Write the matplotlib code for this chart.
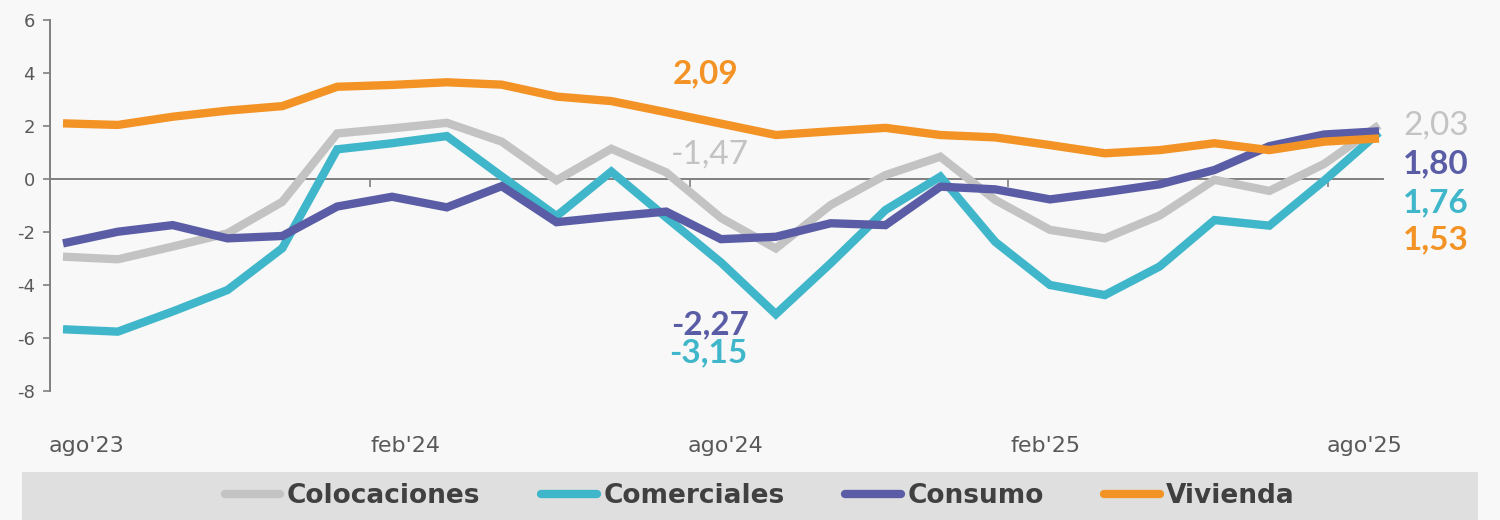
import matplotlib
matplotlib.use("Agg")
import matplotlib.pyplot as plt
from matplotlib.patches import Rectangle
import numpy as np

months = list(range(25))  # ago'23 .. ago'25
tick_labels = ["ago'23", "feb'24", "ago'24", "feb'25", "ago'25"]

colocaciones = [-2.93, -3.03, -2.55, -2.05, -0.86, 1.72, 1.91, 2.12, 1.41, -0.05,
                1.14, 0.25, -1.47, -2.62, -0.98, 0.15, 0.84, -0.79, -1.92, -2.24,
                -1.38, -0.03, -0.45, 0.57, 2.03]
comerciales = [-5.67, -5.76, -5.00, -4.19, -2.61, 1.12, 1.35, 1.62, 0.10, -1.40,
               0.28, -1.45, -3.15, -5.10, -3.18, -1.17, 0.09, -2.37, -4.00, -4.38,
               -3.30, -1.55, -1.76, -0.06, 1.76]
consumo = [-2.43, -1.99, -1.74, -2.24, -2.15, -1.04, -0.67, -1.07, -0.27, -1.63,
           -1.42, -1.23, -2.27, -2.18, -1.67, -1.74, -0.29, -0.39, -0.77, -0.50,
           -0.20, 0.34, 1.24, 1.68, 1.80]
vivienda = [2.10, 2.04, 2.35, 2.58, 2.75, 3.48, 3.55, 3.65, 3.56, 3.11,
            2.94, 2.52, 2.09, 1.66, 1.80, 1.93, 1.66, 1.57, 1.28, 0.97,
            1.09, 1.35, 1.09, 1.41, 1.53]

series_names = ["Colocaciones", "Comerciales", "Consumo", "Vivienda"]
series_vals = [colocaciones, comerciales, consumo, vivienda]
colors = ["#C3C3C3", "#3FB6C9", "#5A5DA5", "#F39325"]

W, H = 1500, 520
fig = plt.figure(figsize=(W / 100, H / 100), dpi=100)
bg = "#F8F8F8"
fig.patch.set_facecolor(bg)

# gray legend band
fig.patches.append(Rectangle((22 / W, 0), (1478 - 22) / W, (520 - 472) / H,
                             transform=fig.transFigure, facecolor="#DFDFDF",
                             edgecolor="none", zorder=0))

ax_left, ax_right, ax_top, ax_bot = 50, 1383, 20, 391
ax = fig.add_axes([ax_left / W, (H - ax_bot) / H, (ax_right - ax_left) / W,
                   (ax_bot - ax_top) / H])
ax.set_facecolor(bg)

x0_px, dx_px = 63, (1379 - 63) / 24
xmin = (ax_left - x0_px) / dx_px
xmax = (ax_right - x0_px) / dx_px
ax.set_xlim(xmin, xmax)
ax.set_ylim(-8, 6)

for name, vals, c in zip(series_names, series_vals, colors):
    ax.plot(months, vals, color=c, lw=6.0, solid_capstyle="butt",
            solid_joinstyle="miter", label=name)

# axes styling
for s in ["top", "right"]:
    ax.spines[s].set_visible(False)
ax.spines["left"].set_color("#7F7F7F")
ax.spines["left"].set_linewidth(1.4)
ax.spines["bottom"].set_position(("data", 0))
ax.spines["bottom"].set_color("#7F7F7F")
ax.spines["bottom"].set_linewidth(1.4)
ax.spines["bottom"].set_zorder(1)

ax.set_yticks(range(-8, 7, 2))
ax.set_yticklabels([str(v) for v in range(-8, 7, 2)])
ax.tick_params(axis="y", direction="out", length=5, width=1.2, color="#7F7F7F",
               labelsize=13, labelcolor="#595959", pad=6)
for t in ax.get_yticklabels():
    t.set_family("DejaVu Sans")

# small tick marks on the zero line
tick_px = [370, 690, 1008, 1328]
ax.set_xticks([(p - x0_px) / dx_px for p in tick_px])
ax.set_xticklabels([])
ax.tick_params(axis="x", direction="out", length=6, width=1.2, color="#7F7F7F")

# category labels at bottom
label_px = np.linspace(86, 1365, len(tick_labels))
for lab, p in zip(tick_labels, label_px):
    fig.text(p / W, (H - 446) / H, lab, ha="center", va="center",
             fontsize=16, color="#595959", family="DejaVu Sans")

# data labels
def lbl(x_px, y_px, s, c, bold=True):
    fig.text(x_px / W, (H - y_px) / H, s, ha="center", va="center",
             fontsize=24, color=c, family="Lato",
             fontweight="bold" if bold else "normal")

lbl(706, 74, "2,09", colors[3])
lbl(710, 155, "-1,47", colors[0], bold=False)
lbl(710, 325, "-2,27", colors[2])
lbl(708, 353, "-3,15", colors[1])
lbl(1436, 126, "2,03", colors[0], bold=False)
lbl(1436, 164, "1,80", colors[2])
lbl(1436, 203, "1,76", colors[1])
lbl(1436, 240, "1,53", colors[3])

leg = fig.legend(loc="center", bbox_to_anchor=(760 / W, (H - 496) / H), ncol=4,
                 frameon=False, handlelength=2.1, handletextpad=0.25,
                 columnspacing=2.3, prop={"family": "DejaVu Sans",
                                           "weight": "bold", "size": 19})
for t in leg.get_texts():
    t.set_color("#404040")
for h in leg.legend_handles:
    h.set_linewidth(6)
    h.set_solid_capstyle("round")

fig.savefig("out.png", dpi=100, facecolor=bg)
